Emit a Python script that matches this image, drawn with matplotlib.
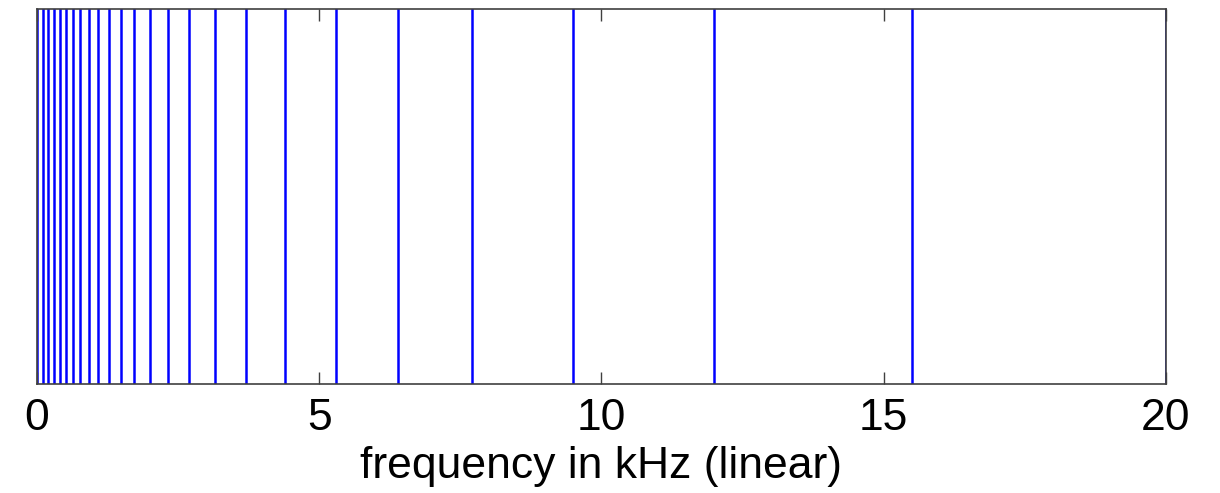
import matplotlib
matplotlib.use("Agg")
import matplotlib.pyplot as plt

# critical band edges (Bark scale), in kHz
band_edges_khz = [0.0, 0.1, 0.2, 0.3, 0.4, 0.51, 0.63, 0.77, 0.92, 1.08, 1.27,
                  1.48, 1.72, 2.0, 2.32, 2.7, 3.15, 3.7, 4.4, 5.3, 6.4, 7.7,
                  9.5, 12.0, 15.5, 20.0]
xticks = [0, 5, 10, 15, 20]

plt.rcParams['font.family'] = ['Liberation Sans', 'DejaVu Sans']

fig = plt.figure(figsize=(12.2, 4.93), dpi=100)
ax = fig.add_axes([0.0303, 0.221, 0.9254, 0.7606])

for f in band_edges_khz:
    ax.axvline(f, color='#0000ff', lw=1.8, zorder=1)

ax.set_xlim(0, 20)
ax.set_ylim(0, 1)
ax.set_xticks(xticks)
ax.set_xticklabels([str(t) for t in xticks])
ax.set_yticks([])
ax.tick_params(axis='x', direction='in', length=8.5, width=1.0, color='#404040',
               top=True, labelsize=32, pad=10)
for s in ax.spines.values():
    s.set_color('#404040')
    s.set_linewidth(1.2)
    s.set_zorder(3)

ax.set_xlabel('frequency in kHz (linear)', fontsize=32, labelpad=5)

fig.savefig('out.png', dpi=100)
